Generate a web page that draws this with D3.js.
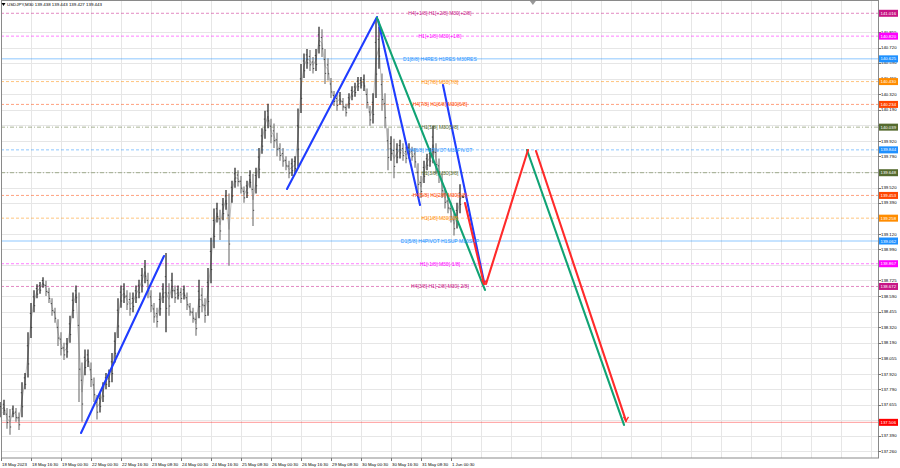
<!DOCTYPE html>
<html><head><meta charset="utf-8">
<script src="https://cdn.jsdelivr.net/npm/d3@7"></script>
<style>body{margin:0;background:#fff;} svg{display:block;font-family:"Liberation Sans",Arial,sans-serif;}</style>
</head><body><svg id="c" width="900" height="468"></svg>
<script>
// ---------- DATA ----------
const headerText = "USDJPY,M30  139.438 139.443 139.427 139.443";
const dateLabels = ["18 May 2023","18 May 16:30","19 May 00:30","22 May 00:30","22 May 16:30","23 May 08:30","24 May 00:30","24 May 16:30","25 May 08:30","26 May 00:30","26 May 16:30","29 May 08:30","30 May 00:30","30 May 16:30","31 May 08:30","1 Jun 00:30"];
const dateLabelBars = [0,10,20,30,40,50,60,70,80,90,100,110,120,130,140,150];
const priceTicks = [140.855,140.720,140.590,140.455,140.320,140.190,140.055,139.920,139.790,139.520,139.390,139.120,138.990,138.725,138.590,138.455,138.320,138.190,138.055,137.920,137.790,137.655,137.525,137.390,137.260];
const barHigh = [137.68,137.70,137.63,137.62,137.65,137.63,137.59,137.85,137.93,138.28,
138.53,138.64,138.69,138.71,138.75,138.72,138.66,138.57,138.49,138.39,
138.28,138.19,138.23,138.42,138.62,138.68,138.62,138.02,138.13,138.13,
138.02,137.89,137.74,137.76,137.85,137.93,137.96,138.10,138.28,138.57,
138.68,138.70,138.64,138.62,138.62,138.68,138.73,138.83,138.90,138.79,
138.64,138.53,138.49,138.62,138.70,138.96,138.70,138.79,138.68,138.68,
138.66,138.68,138.62,138.53,138.49,138.45,138.73,138.66,138.57,138.83,
139.09,139.34,139.39,139.33,139.43,139.50,139.47,139.58,139.69,139.67,
139.62,139.53,139.58,139.67,139.64,139.69,139.86,140.03,140.18,140.24,
140.11,140.07,139.99,139.90,139.86,139.79,139.75,139.77,139.79,140.20,
140.58,140.67,140.71,140.70,140.64,140.71,140.90,140.88,140.71,140.63,
140.46,140.35,140.33,140.34,140.29,140.24,140.33,140.39,140.42,140.47,
140.47,140.49,140.37,140.22,140.33,140.97,140.90,140.50,140.33,140.03,
139.96,139.94,139.90,139.93,139.90,139.87,139.90,139.87,139.86,139.73,
139.62,139.75,139.81,139.86,140.05,139.90,139.77,139.64,139.52,139.45,
139.39,139.30,139.39,139.55,139.45];
const barLow = [137.55,137.57,137.45,137.40,137.55,137.51,137.44,137.55,137.79,137.89,
138.23,138.45,138.57,138.61,138.66,138.59,138.53,138.42,138.36,138.16,
138.08,138.04,138.06,138.19,138.40,138.53,137.68,137.51,137.91,137.98,
137.81,137.68,137.53,137.59,137.68,137.79,137.81,137.85,138.02,138.23,
138.49,138.53,138.47,138.42,138.45,138.53,138.57,138.62,138.70,138.57,
138.45,138.36,138.32,138.42,138.53,138.28,138.42,138.57,138.53,138.56,
138.53,138.56,138.47,138.42,138.36,138.25,138.40,138.45,138.36,138.42,
138.70,139.00,139.22,139.07,139.24,139.33,138.85,139.39,139.52,139.53,
139.47,139.39,139.43,139.52,139.19,139.47,139.60,139.81,139.94,140.03,
139.90,139.86,139.79,139.75,139.70,139.67,139.60,139.62,139.64,139.70,
140.16,140.46,140.54,140.52,140.50,140.52,140.67,140.64,140.41,140.44,
140.29,140.22,140.18,140.23,140.18,140.13,140.20,140.27,140.30,140.35,
140.37,140.35,140.20,140.05,140.07,140.29,140.54,140.18,140.03,139.67,
139.75,139.60,139.73,139.77,139.75,139.73,139.77,139.75,139.69,139.47,
139.43,139.56,139.67,139.70,139.73,139.64,139.56,139.43,139.34,139.30,
139.22,139.11,139.17,139.30,139.43];
const levelPrices = [141.016,140.820,140.625,140.430,140.234,140.039,139.844,139.648,139.453,139.258,139.062,138.867,138.672];
const levelEighths = [10,9,8,7,6,5,4,3,2,1,0,-1,-2];
const levelLabels = ["H4[+1/8] H1[+2/8] M30[+2/8]","H1[+1/8] M30[+1/8]","D1[8/8] H4RES H1RES M30RES","H1[7/8] M30[7/8]","H4[7/8] H1[6/8] M30[6/8]","H1[5/8] M30[5/8]","H4[6/8] H1PIVOT M30PIVOT","H1[3/8] M30[3/8]","H4[5/8] H1[2/8] M30[2/8]","H1[1/8] M30[1/8]","D1[5/8] H4PIVOT H1SUP M30SUP","H1[-1/8] M30[-1/8]","H4[3/8] H1[-2/8] M30[-2/8]"];
const levelLabelBar = 146.3;
const targetPrice = 137.506;
const blueLegs = [[[26.67,137.415],[54.33,138.933]],[[95.33,139.508],[125.33,140.984]],[[125.67,140.958],[139.67,139.371]],[[147.33,140.401],[161,138.710]]];
const greenLegs = [[[125.33,140.976],[161.33,138.642]],[[175.33,139.843],[207.67,137.484]]];
const redLegs = [[[154.67,139.388],[161,138.693]],[[161.67,138.693],[175.67,139.843]],[[178.33,139.834],[208.33,137.518]]];
const shiftMarkerBar = 177.3;

// ---------- STYLE ----------
const eighthColor = e => ({10:"#c71585",9:"#ff00ff",8:"#1e90ff",7:"#ff8c00",6:"#ff4500",5:"#556b2f",4:"#1e90ff",3:"#556b2f",2:"#ff4500",1:"#ff8c00",0:"#1e90ff","-1":"#ff00ff","-2":"#c71585"})[e];
const eighthDash = e => (e===8||e===0) ? null : (e===5||e===3) ? "4,2,1,2" : "3,2";
const AXF = 4.3;

const svg = d3.select("#c");
const P = {l:1, r:878, t:0, b:458};
const x = d3.scaleLinear().domain([0,(P.r-P.l)/3]).range([P.l,P.r]);
const y = d3.scaleLinear().domain([137.200,141.130]).range([P.b,P.t]);

svg.append("rect").attr("width",900).attr("height",468).attr("fill","#fff");

// grid
const g = svg.append("g");
g.selectAll(".vg").data(d3.range(0,x.domain()[1],10)).join("line")
 .attr("x1",d=>Math.round(x(d))+0.5).attr("x2",d=>Math.round(x(d))+0.5).attr("y1",P.t).attr("y2",P.b)
 .attr("stroke","#e6e6e6").attr("stroke-width",1);
g.selectAll(".hg").data(priceTicks.concat([139.655,138.855])).join("line")
 .attr("x1",P.l).attr("x2",P.r).attr("y1",d=>Math.round(y(d))+0.5).attr("y2",d=>Math.round(y(d))+0.5)
 .attr("stroke","#e6e6e6").attr("stroke-width",1);

// level lines
svg.append("g").selectAll("line").data(levelPrices).join("line")
 .attr("x1",P.l).attr("x2",P.r).attr("y1",d=>y(d)).attr("y2",d=>y(d))
 .attr("stroke",(d,i)=>eighthColor(levelEighths[i])).attr("stroke-opacity",0.5)
 .attr("stroke-dasharray",(d,i)=>eighthDash(levelEighths[i])).attr("stroke-width",1);
svg.append("line").attr("x1",P.l).attr("x2",P.r).attr("y1",y(targetPrice)).attr("y2",y(targetPrice))
 .attr("stroke","#ff0000").attr("stroke-opacity",0.4).attr("stroke-width",1);

// bars
const bars = barHigh.map((h,i)=>({i,h,l:barLow[i]}));
const mid = bars.map(d=>[x(d.i),(y(d.h)+y(d.l))/2]);
svg.append("path").attr("d",d3.line()(mid)).attr("fill","none").attr("stroke","#555").attr("stroke-width",0.7).attr("stroke-opacity",0.55);
svg.append("g").selectAll("line").data(bars).join("line")
 .attr("x1",d=>x(d.i)).attr("x2",d=>x(d.i)).attr("y1",d=>y(d.h)).attr("y2",d=>y(d.l))
 .attr("stroke",(d,i)=> (i>0 && (d.h+d.l) < (barHigh[i-1]+barLow[i-1])) ? "#7a7a7a" : "#1e1e1e").attr("stroke-width",1.2);
// open/close ticks
svg.append("g").selectAll("path").data(bars).join("path")
 .attr("d",d=>{const xx=x(d.i), a=y(d.h)+(y(d.l)-y(d.h))*0.3, b=y(d.h)+(y(d.l)-y(d.h))*0.7; return `M${xx-1.2},${a}H${xx}M${xx},${b}H${xx+1.2}`;})
 .attr("stroke","#333").attr("stroke-width",0.8).attr("fill","none");

// pattern legs
const legLine = d3.line().x(d=>x(d[0])).y(d=>y(d[1]));
const legs = svg.append("g").attr("fill","none").attr("stroke-linecap","round");
legs.selectAll(".b").data(blueLegs).join("path").attr("d",legLine).attr("stroke","#1f3cff").attr("stroke-width",2.1);
legs.selectAll(".gr").data(greenLegs).join("path").attr("d",legLine).attr("stroke","#10a374").attr("stroke-width",2.1);
legs.selectAll(".r").data(redLegs).join("path").attr("d",legLine).attr("stroke","#ff2a2a").attr("stroke-width",2.1);
[redLegs[0][1], redLegs[2][1]].forEach(p=>{
  const cx=x(p[0]), cy=y(p[1]);
  svg.append("path").attr("d",`M${cx-2.5},${cy-4}L${cx},${cy}L${cx+2.5},${cy-4}`).attr("fill","none").attr("stroke","#ff2a2a").attr("stroke-width",1.3);
});

// level labels
svg.append("g").selectAll("text").data(levelPrices).join("text")
 .attr("x",x(levelLabelBar)).attr("y",d=>y(d)+2).attr("text-anchor","middle")
 .attr("font-size",5).attr("fill",(d,i)=>eighthColor(levelEighths[i]))
 .text((d,i)=>levelLabels[i]);

// frame
svg.append("rect").attr("x",P.l+0.5).attr("y",P.t+0.5).attr("width",P.r-P.l).attr("height",P.b-P.t-0.5)
 .attr("fill","none").attr("stroke","#8a8a8a").attr("stroke-width",1);

// right axis
const ra = svg.append("g");
ra.selectAll("line").data(priceTicks).join("line")
 .attr("x1",P.r).attr("x2",P.r+3).attr("y1",d=>Math.round(y(d))+0.5).attr("y2",d=>Math.round(y(d))+0.5).attr("stroke","#777");
ra.selectAll("text").data(priceTicks).join("text")
 .attr("x",P.r+3).attr("y",d=>y(d)+1.5).attr("font-size",AXF).attr("fill","#000").text(d=>d.toFixed(3));

// bottom axis
const ba = svg.append("g");
ba.selectAll("line").data(dateLabelBars).join("line")
 .attr("x1",d=>Math.round(x(d))+0.5).attr("x2",d=>Math.round(x(d))+0.5).attr("y1",P.b).attr("y2",P.b+3).attr("stroke","#777");
ba.selectAll("text").data(dateLabelBars).join("text")
 .attr("x",d=>x(d)+1).attr("y",465.5).attr("font-size",AXF).attr("fill","#000").text((d,i)=>dateLabels[i]);

// price boxes
const boxes = levelPrices.map((p,i)=>({p,c:eighthColor(levelEighths[i])})).concat([{p:targetPrice,c:"#ff0000"}]);
const bx = svg.append("g");
bx.selectAll("rect").data(boxes).join("rect")
 .attr("x",P.r+1).attr("y",d=>y(d.p)-3.5).attr("width",19).attr("height",7).attr("fill",d=>d.c);
bx.selectAll("text").data(boxes).join("text")
 .attr("x",P.r+2.5).attr("y",d=>y(d.p)+1.6).attr("font-size",AXF).attr("fill","#fff").text(d=>d.p.toFixed(3));

// shift marker
const sx = x(shiftMarkerBar);
svg.append("path").attr("d",`M${sx-3},1L${sx+3},1L${sx},5Z`).attr("fill","#999");

// header
svg.append("path").attr("d","M1.5,3L5.5,3L3.5,6Z").attr("fill","#000");
svg.append("text").attr("x",7).attr("y",6.3).attr("font-size",4.4).attr("fill","#000").text(headerText);
</script></body></html>
